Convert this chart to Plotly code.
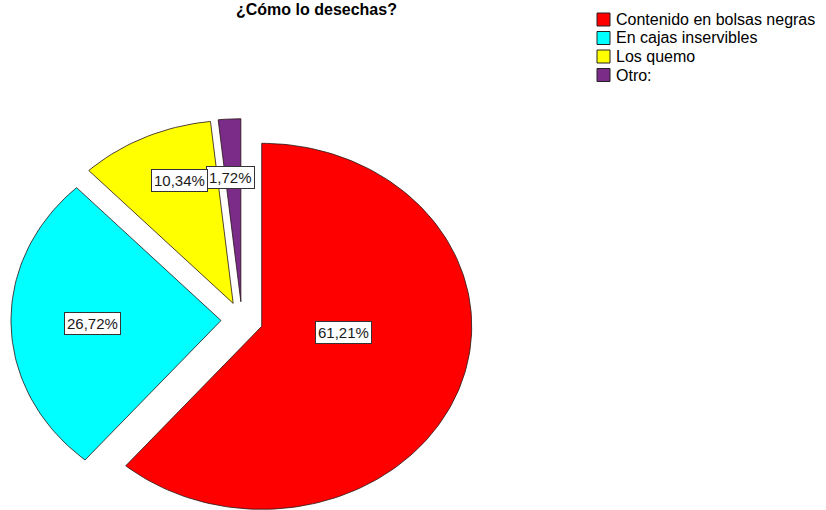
import numpy as np
import plotly.graph_objects as go

# Survey answers: how the waste is disposed of
categories = ["Contenido en bolsas negras", "En cajas inservibles", "Los quemo", "Otro:"]
counts = [71, 31, 12, 2]
colors = ["#ff0000", "#00ffff", "#ffff00", "#7a2c88"]
title_text = "¿Cómo lo desechas?"

# Canvas and pie geometry (pixels)
W, H = 826, 510
CX, CY = 242, 320          # pie centre
RX, RY = 210, 183          # horizontal / vertical radius
PULL = 0.10                # every slice is exploded by this fraction of the radius

# Where each value label sits: (fraction through the slice's angle, radius fraction)
LABEL_AT = [(0.43, 0.39), (0.50, 0.61), (0.61, 0.72), (0.35, 0.68)]

total = sum(counts)
shares = [c / total for c in counts]
ends = np.cumsum(shares) * 2 * np.pi
starts = np.concatenate([[0.0], ends[:-1]])

fig = go.Figure()
labels = []
for i, (name, share, a0, a1) in enumerate(zip(categories, shares, starts, ends)):
    mid = 0.5 * (a0 + a1)
    ox, oy = PULL * np.sin(mid), PULL * np.cos(mid)
    t = np.linspace(a0, a1, max(3, int(240 * share)))
    xs = np.concatenate([[ox], ox + np.sin(t), [ox]])
    ys = np.concatenate([[oy], oy + np.cos(t), [oy]])
    fig.add_trace(go.Scatter(
        x=xs, y=ys, mode="lines", fill="toself", fillcolor=colors[i],
        line=dict(color="rgba(40,20,20,0.8)", width=1),
        name=name, showlegend=False, hoverinfo="name",
    ))
    frac, rad = LABEL_AT[i]
    ang = a0 + frac * (a1 - a0)
    pct = f"{100 * share:.2f}".replace(".", ",") + "%"
    labels.append(dict(
        x=ox + rad * np.sin(ang), y=oy + rad * np.cos(ang), xref="x", yref="y",
        text=pct, showarrow=False, font=dict(family="Arial", size=15, color="#1a1a1a"),
        bgcolor="white", bordercolor="#333333", borderwidth=1, borderpad=2,
    ))

# Small slices' labels first so neighbouring boxes overlap in that order
annotations = list(reversed(labels))

# Title along the top edge
annotations.append(dict(
    x=316 / W, y=1, xref="paper", yref="paper", xanchor="center", yanchor="top",
    yshift=1, text=f"<b>{title_text}</b>", showarrow=False,
    font=dict(family="Arial", size=16, color="black"),
))

# Legend: coloured boxes with category names
shapes = []
LEG_X, LEG_Y0, LEG_STEP, BOX = 597, 19.5, 18.5, 13
for i, name in enumerate(categories):
    yc = LEG_Y0 + i * LEG_STEP
    shapes.append(dict(
        type="rect", xref="paper", yref="paper",
        x0=LEG_X / W, x1=(LEG_X + BOX) / W,
        y0=1 - (yc + BOX / 2) / H, y1=1 - (yc - BOX / 2) / H,
        fillcolor=colors[i], line=dict(color="#222222", width=1),
    ))
    annotations.append(dict(
        x=(LEG_X + BOX + 4) / W, y=1 - yc / H, xref="paper", yref="paper",
        xanchor="left", yanchor="middle", text=name, showarrow=False,
        font=dict(family="Arial", size=16, color="black"),
    ))

fig.update_layout(
    width=W, height=H, margin=dict(l=0, r=0, t=0, b=0),
    paper_bgcolor="white", plot_bgcolor="white",
    xaxis=dict(range=[-CX / RX, (W - CX) / RX], visible=False, fixedrange=True),
    yaxis=dict(range=[-(H - CY) / RY, CY / RY], visible=False, fixedrange=True),
    annotations=annotations, shapes=shapes, showlegend=False,
)

fig.write_html("out.html")
